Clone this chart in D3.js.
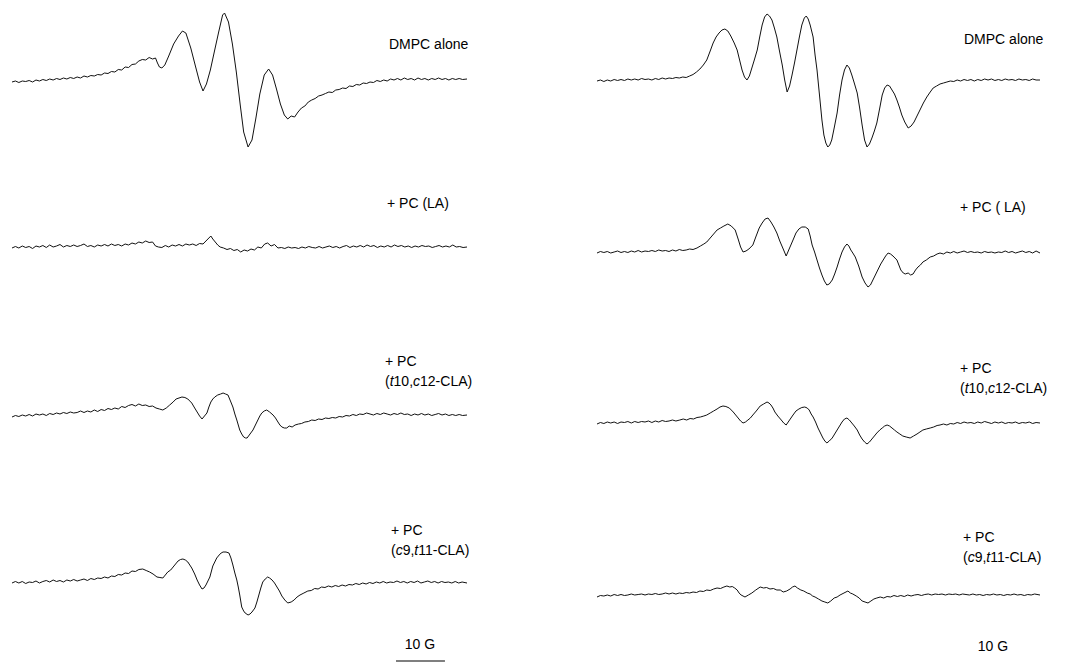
<!DOCTYPE html>
<html>
<head>
<meta charset="utf-8">
<script src="https://cdn.jsdelivr.net/npm/d3@7"></script>
<style>
  body { margin: 0; background: #fff; }
  text { font-family: "Liberation Sans", Arial, sans-serif; font-size: 14px; fill: #000; }
</style>
</head>
<body>
<svg id="chart" width="1077" height="665"></svg>
<script>
// EPR spectra, [field (G), signal (a.u.)]

var dmpcLeft = [[0,-2],[0.7,-1],[1.4,-2.5],[2.1,-1],[2.8,-1.5],[3.5,-0.5],[4.2,-2],[4.9,0],[5.6,-1],[6.3,0.5],[7,-0.5],[7.7,1],[8.4,0],[9.1,1.5],[9.8,0.5],[10.5,2],[11.2,1],[11.9,2.5],[12.6,1.5],[13.3,3],[14,2],[14.7,4],[15.4,3],[16.1,4.5],[16.8,4],[17.5,5.5],[18.2,5],[18.9,7],[19.6,6.5],[20.3,8.5],[21,8],[21.7,10.5],[22.4,10],[23.1,13],[23.8,12.5],[24.5,15.5],[25.2,16],[25.9,19],[26.6,20.5],[27.3,20],[28,22.5],[28.7,21],[29.3,22],[29.7,17],[30.1,13],[30.6,12],[31.2,15],[32,24],[33,36],[34,44],[34.8,49],[35.5,47],[36.5,32],[37.5,13],[38.3,-2],[39,-11],[39.7,-4],[40.5,10],[41.3,28],[42.2,48],[43,65],[43.4,67],[44.2,58],[45,36],[45.8,8],[46.6,-25],[47.3,-52],[48.2,-67],[49,-60],[49.8,-38],[50.6,-14],[51.5,5],[52.4,11],[53.2,5],[54,-9],[54.8,-24],[55.6,-35],[56.3,-39],[57,-36],[57.7,-37],[58.4,-32],[59.1,-28],[59.8,-26],[60.5,-22],[61.2,-20],[61.9,-18.5],[62.6,-16],[63.3,-15],[64,-13.5],[64.7,-12],[65.4,-12.5],[66.1,-10],[66.8,-9.5],[67.5,-8],[68.2,-8.5],[68.9,-6],[69.6,-6.5],[70.3,-4.5],[71,-5],[71.7,-3],[72.4,-3.5],[73.1,-2],[73.8,-2.5],[74.5,-0.5],[75.2,-1.5],[75.9,0],[76.6,-1],[77.3,1],[78,0],[78.7,1.5],[79.4,0],[80.1,2],[80.8,0.5],[81.5,1.5],[82.2,0],[82.9,2],[83.6,0.5],[84.3,1.5],[85,0],[85.7,1.5],[86.4,0.5],[87.1,2],[87.8,0.5],[88.5,1.5],[89.2,0],[89.9,1.5],[90.6,0.5],[91.3,1.5],[92,0.5],[92.9,1]];

var laLeft = [[0,-1],[0.7,0.5],[1.4,-1],[2.1,1],[2.8,-0.5],[3.5,0.5],[4.2,-1.5],[4.9,1],[5.6,0],[6.3,1.5],[7,-0.5],[7.7,2],[8.4,0],[9.1,1],[9.8,2.5],[10.5,0],[11.2,1.5],[11.9,0.5],[12.6,2],[13.3,0.5],[14,1.5],[14.7,3],[15.4,0.5],[16.1,1.5],[16.8,0],[17.5,2],[18.2,1],[18.9,2.5],[19.6,1],[20.3,3],[21,1.5],[21.7,2.5],[22.4,1],[23.1,3],[23.8,2],[24.5,4],[25.2,3],[25.9,5],[26.6,4],[27.3,6],[28,4.5],[28.7,5],[29.3,1],[29.9,0],[30.6,-0.5],[31.3,1.5],[32,0],[32.7,2],[33.4,1],[34.1,2.5],[34.8,1],[35.5,3],[36.2,2],[36.9,3],[37.6,1.5],[38.3,3.5],[39,3],[39.6,6],[40.2,9],[40.6,11],[41,8],[41.5,5],[42,2],[42.5,0],[43.2,-1],[43.9,-2.5],[44.6,-1.5],[45.3,-3.5],[46,-2.5],[46.7,-5],[47.4,-3],[48.1,-4],[48.8,-2],[49.5,-3],[50.2,0],[50.9,-1],[51.6,3],[52.2,4],[52.9,1],[53.6,2.5],[54.3,-1],[55,-0.5],[55.7,-1.5],[56.4,0],[57.1,-1],[57.8,-0.5],[58.5,-1.5],[59.2,0],[59.9,-1],[60.6,0.5],[61.3,-0.5],[62,-1],[62.7,0.5],[63.4,-1],[64.1,0],[64.8,1],[65.5,-0.5],[66.2,0.5],[66.9,-1],[67.6,0.5],[68.3,1.5],[69,-0.5],[69.7,1],[70.4,0],[71.1,1.5],[71.8,0],[72.5,2],[73.2,0.5],[73.9,1.5],[74.6,-0.5],[75.3,1],[76,0],[76.7,1.5],[77.4,0],[78.1,2],[78.8,0.5],[79.5,1.5],[80.2,0],[80.9,1],[81.6,-0.5],[82.3,1],[83,0],[83.7,1.5],[84.4,0.5],[85.1,1],[85.8,-0.5],[86.5,0.5],[87.2,1.5],[87.9,0],[88.6,1],[89.3,0],[90,2],[90.7,0],[91.4,0.5],[92.1,-0.5],[92.9,0]];

var t10Left = [[0,-2],[0.7,-0.5],[1.4,-1.5],[2.1,0],[2.8,-1],[3.5,0.5],[4.2,-1],[4.9,1],[5.6,0],[6.3,1],[7,-0.5],[7.7,1.5],[8.4,0.5],[9.1,2],[9.8,1],[10.5,2.5],[11.2,1.5],[11.9,3],[12.6,2],[13.3,2.5],[14,4],[14.7,2.5],[15.4,4],[16.1,3],[16.8,5],[17.5,3.5],[18.2,5.5],[18.9,4.5],[19.6,6.5],[20.3,5.5],[21,7],[21.7,6],[22.4,8.5],[23.1,7.5],[23.8,9.5],[24.5,10.5],[25.2,9],[25.9,11],[26.6,9.5],[27.3,10],[28,8.5],[28.7,9],[29.4,7],[30.1,6],[30.8,5],[31.5,7],[32.2,10],[32.9,13],[33.5,16],[34.1,17],[34.7,18],[35.3,17.5],[35.9,16],[36.3,14],[36.7,12],[37.3,7],[37.8,3],[38.3,-1],[38.8,-4],[39.3,-1],[39.8,2],[40.2,8],[40.6,13],[41,16],[41.4,18],[42,20],[42.6,21],[43.1,22],[43.6,21],[44.1,20],[44.6,14],[45.1,8],[45.5,1],[45.9,-5],[46.2,-10],[46.5,-15],[46.9,-19],[47.3,-22],[47.7,-23],[48,-23],[48.6,-19],[49.2,-15],[49.7,-10],[50.2,-5],[50.6,-1],[51,2],[51.5,4],[52,5],[52.6,3],[53.3,0],[53.8,-3],[54.3,-7],[54.7,-10],[55.1,-12],[55.6,-13],[56.1,-13],[56.6,-11],[57.2,-12],[57.8,-10],[58.5,-9],[59.1,-8.5],[59.8,-7],[60.5,-6.5],[61.2,-5],[61.9,-5.5],[62.6,-4],[63.3,-4.5],[64,-3],[64.7,-3.5],[65.4,-2.5],[66.1,-3],[66.8,-1.5],[67.5,-2],[68.2,-0.5],[68.9,-1],[69.6,0.5],[70.3,-0.5],[71,1],[71.7,0.5],[72.4,2],[73.1,1],[73.8,0],[74.5,1.5],[75.2,0.5],[75.9,2],[76.6,1],[77.3,0],[78,1.5],[78.7,0.5],[79.4,2],[80.1,0.5],[80.8,1],[81.5,-0.5],[82.2,1],[82.9,0],[83.6,1.5],[84.3,0],[85,1],[85.7,-0.5],[86.4,0.5],[87.1,1.5],[87.8,0],[88.5,1],[89.2,-0.5],[89.9,0.5],[90.6,-0.5],[91.3,0.5],[92,-0.5],[92.9,0]];

var c9Left = [[0,-1],[0.7,0.5],[1.4,-1],[2.1,0.5],[2.8,-1.5],[3.5,0],[4.2,-0.5],[4.9,1],[5.6,-1],[6.3,0.5],[7,1.5],[7.7,0],[8.4,2],[9.1,0.5],[9.8,1.5],[10.5,0],[11.2,2],[11.9,1],[12.6,2.5],[13.3,1],[14,2],[14.7,3],[15.4,1.5],[16.1,3.5],[16.8,2.5],[17.5,4],[18.2,3.5],[18.9,5],[19.6,4],[20.3,6],[21,5.5],[21.7,7.5],[22.4,7],[23.1,9],[23.8,8.5],[24.5,11],[25.2,10.5],[25.9,12.5],[26.7,13],[27.4,11.5],[28.1,10],[28.8,8],[29.6,5],[30.2,4.5],[30.8,4],[31.3,7],[31.8,10],[32.4,12],[32.9,15],[33.4,18],[33.9,21],[34.4,22.5],[34.9,23],[35.4,22],[35.9,20],[36.3,17],[36.7,14],[37.3,8],[37.8,2],[38.3,-3],[38.8,-7],[39.2,-6],[39.6,-3],[40,1],[40.4,5],[41,16],[41.4,20],[41.8,24],[42.3,27],[42.7,29],[43.1,30],[43.7,30],[44.3,29],[44.7,24],[45.1,17],[45.5,9],[45.9,2],[46.2,-5],[46.5,-13],[46.9,-25],[47.3,-29],[47.6,-31],[48.2,-33],[48.6,-32],[49,-30],[49.6,-26],[50,-20],[50.4,-13],[50.8,-6],[51.2,0],[51.7,3],[52.2,5],[52.6,4],[53.1,2],[53.6,-1],[54.1,-5],[54.6,-9],[55.1,-14],[55.7,-18],[56.3,-21],[57,-20],[57.6,-18],[58.2,-15],[58.8,-13],[59.6,-11],[60.4,-9],[61.1,-8.5],[61.8,-6.5],[62.5,-7],[63.2,-5],[63.9,-5.5],[64.6,-4],[65.3,-5],[66,-3.5],[66.7,-4.5],[67.4,-3],[68.1,-4],[68.8,-2.5],[69.5,-3],[70.2,-1.5],[70.9,-2.5],[71.6,-1],[72.3,-2],[73,-0.5],[73.7,-1.5],[74.4,0],[75.1,-1],[75.8,0.5],[76.5,-1],[77.2,0],[77.9,-0.5],[78.6,1],[79.3,-0.5],[80,0.5],[80.7,-1],[81.4,0.5],[82.1,-0.5],[82.8,1],[83.5,-1],[84.2,0],[84.9,1],[85.6,-0.5],[86.3,0.5],[87,-1],[87.7,0.5],[88.4,-0.5],[89.1,0],[89.8,-1],[90.5,0.5],[91.2,-1],[91.9,0],[92.9,-1]];

var dmpcRight = [[0,-1],[0.7,0],[1.4,-1.5],[2.1,0],[2.8,-1],[3.5,0.5],[4.2,-0.5],[4.9,0.5],[5.6,-0.5],[6.3,1],[7,0],[7.7,1],[8.4,0],[9.1,1.5],[9.8,0.5],[10.5,1],[11.2,0],[11.9,1.5],[12.6,0.5],[13.3,2],[14,1],[14.7,2],[15.4,1.5],[16.1,2.5],[16.8,2],[17.5,3],[18.2,2.5],[18.9,4],[19.6,5.5],[20.3,8],[21,11],[21.7,15],[22.4,20],[23.1,29],[23.7,37],[24.3,43],[24.9,47],[25.5,50],[26.1,51],[26.7,49],[27.3,44],[28,37],[28.6,30],[29.1,20],[29.6,10],[30.1,3],[30.6,0],[31.1,4],[31.6,12],[32.1,20],[32.7,30],[33.2,43],[33.7,55],[34.2,63],[34.7,66],[35.2,64],[35.7,60],[36.2,52],[36.7,43],[37.2,30],[37.8,15],[38.3,0],[38.8,-12],[39.3,-6],[39.8,5],[40.3,17],[40.8,30],[41.3,43],[41.8,55],[42.3,62],[42.7,64],[43.1,61],[43.5,55],[44.1,43],[44.5,25],[44.9,10],[45.5,-20],[45.9,-40],[46.3,-55],[46.7,-63],[47.1,-67],[47.5,-65],[47.9,-60],[48.4,-48],[49,-33],[49.5,-15],[50,0],[50.5,10],[51,15],[51.5,12],[52,5],[52.5,-3],[53.1,-13],[53.6,-28],[54.1,-45],[54.6,-60],[55.1,-67],[55.6,-64],[56.1,-58],[56.6,-51],[57.1,-43],[57.7,-28],[58.2,-15],[58.7,-8],[59.2,-5],[59.7,-6],[60.2,-10],[60.7,-14],[61.2,-20],[61.7,-27],[62.2,-35],[62.8,-42],[63.5,-48],[64.1,-46],[64.7,-42],[65.3,-36],[65.9,-30],[66.6,-23],[67.3,-17],[68,-12],[68.6,-8],[69.3,-6],[70,-4],[70.7,-3],[71.4,-2],[72.1,-1],[72.8,-1.5],[73.5,0],[74.2,-1],[74.9,0.5],[75.6,-0.5],[76.3,0.5],[77,-1],[77.7,0.5],[78.4,-0.5],[79.1,1],[79.8,0],[80.5,1],[81.2,-0.5],[81.9,0.5],[82.6,-0.5],[83.3,1],[84,0],[84.7,0.5],[85.4,-0.5],[86.1,1],[86.8,0],[87.5,0.5],[88.2,-0.5],[88.9,1],[89.6,0],[90.4,0]];

var laRight = [[0,-1],[0.7,0.5],[1.4,-0.5],[2.1,0.5],[2.8,-1],[3.5,0],[4.2,1],[4.9,-0.5],[5.6,0.5],[6.3,-0.5],[7,1],[7.7,0],[8.4,1.5],[9.1,0],[9.8,1],[10.5,0.5],[11.2,1.5],[11.9,0.5],[12.6,2],[13.3,1],[14,1.5],[14.7,0.5],[15.4,2],[16.1,1],[16.8,2.5],[17.5,1.5],[18.2,2],[18.9,3],[19.6,2.5],[20.4,4],[21.1,6],[21.8,8],[22.4,10],[23.1,14],[23.8,18],[24.5,22],[25.2,24],[25.9,26],[26.7,28],[27.4,26],[28.2,22],[28.8,13],[29.3,5],[29.8,0],[30.4,1],[31,3],[31.8,7],[32.4,15],[33.1,24],[33.7,29],[34.3,33],[34.9,34],[35.5,30],[36.1,25],[36.7,19],[37.3,11],[38,3],[38.6,-4],[39.3,4],[40,12],[40.6,19],[41.2,23],[41.8,25],[42.5,25],[43.1,23],[43.5,16],[43.9,7],[44.4,0],[44.9,-8],[45.4,-16],[45.9,-23],[46.4,-29],[46.9,-33],[47.4,-32],[48,-28],[48.5,-22],[49,-15],[49.5,-7],[50,0],[50.5,5],[51,8],[51.4,6],[51.8,2],[52.2,-1],[52.7,-5],[53.4,-14],[54.1,-25],[54.7,-31],[55.3,-35],[55.8,-33],[56.3,-28],[56.8,-23],[57.3,-18],[57.9,-12],[58.4,-8],[58.9,-4],[59.4,-1],[59.9,-2],[60.4,-4],[60.8,-6],[61.2,-8],[61.6,-13],[62,-18],[62.5,-21],[62.9,-22],[63.5,-21],[64,-23],[64.5,-22],[65,-18],[65.5,-15],[66,-13],[66.5,-10],[67.2,-8],[68,-5],[68.7,-4],[69.4,-2],[70,-1],[70.7,-2],[71.4,0],[72.1,-1],[72.8,0.5],[73.5,-1],[74.2,0],[74.9,1],[75.6,-0.5],[76.3,0.5],[77,-0.5],[77.7,0],[78.4,-1],[79.1,0.5],[79.8,-0.5],[80.5,0],[81.2,-1],[81.9,0],[82.6,-0.5],[83.3,1],[84,-0.5],[84.7,0.5],[85.4,-1],[86.1,0],[86.8,1],[87.5,-0.5],[88.2,0.5],[88.9,-1],[89.6,1],[90.4,-1]];

var t10Right = [[0,-2],[0.7,-0.5],[1.4,-1.5],[2.1,0],[2.8,-1],[3.5,0],[4.2,-1.5],[4.9,0],[5.6,-0.5],[6.3,0.5],[7,-1],[7.7,0.5],[8.4,-0.5],[9.1,0.5],[9.8,0],[10.5,1],[11.2,-0.5],[11.9,1],[12.6,0],[13.3,1.5],[14,0.5],[14.7,1],[15.4,2],[16.1,1],[16.9,2],[17.6,3],[18.3,2],[19,3.5],[19.7,3],[20.4,4.5],[21.1,5],[21.8,6],[22.4,7],[23.1,9],[23.8,11],[24.5,13],[25.1,15],[25.7,16],[26.3,15.5],[27,14],[27.8,10],[28.3,7],[28.8,4],[29.3,1],[29.8,-1],[30.3,0],[30.8,2],[31.3,4],[31.8,7],[32.5,11],[33.3,16],[34,18],[34.7,20],[35.1,19],[35.5,17],[35.9,14],[36.3,10],[36.9,6],[37.6,2],[38.1,-1],[38.6,-3],[39.3,2],[40,7],[40.6,11],[41.2,13],[41.8,14.5],[42.4,15],[42.9,14],[43.3,12],[43.7,8],[44.1,5],[44.6,0],[45.1,-6],[45.6,-11],[46.1,-16],[46.5,-19],[46.9,-21],[47.4,-19],[48,-16],[48.5,-12],[49,-8],[49.5,-4],[50,0],[50.5,3],[51,4],[51.5,2],[52,-1],[52.5,-4],[53.1,-8],[53.6,-13],[54.1,-17],[54.6,-20],[55.1,-22],[55.6,-20],[56.1,-17],[56.6,-14],[57.1,-11],[57.7,-8],[58.2,-6],[58.7,-4],[59.2,-3],[59.7,-4],[60.2,-6],[60.7,-8],[61.2,-10],[61.8,-12],[62.4,-14],[63.1,-15],[63.9,-16],[64.6,-14],[65.3,-12],[65.9,-10],[66.5,-8],[67.2,-7],[68,-6],[68.7,-5],[69.4,-3.5],[70,-3],[70.7,-2],[71.4,-3],[72.1,-1.5],[72.8,-2],[73.5,-0.5],[74.2,-1.5],[74.9,0],[75.6,-1],[76.3,-0.5],[77,-1.5],[77.7,0],[78.4,-1],[79.1,0.5],[79.8,-0.5],[80.5,-1.5],[81.2,0],[81.9,-1],[82.6,0],[83.3,-1.5],[84,-0.5],[84.7,-1],[85.4,0],[86.1,-1.5],[86.8,-0.5],[87.5,-1],[88.2,0],[88.9,-1.5],[89.6,-0.5],[90.4,-1]];

var c9Right = [[0,-2],[0.7,-0.5],[1.4,-1],[2.1,0],[2.8,-1],[3.5,0.5],[4.2,-0.5],[4.9,0.5],[5.6,-0.5],[6.3,0],[7,1],[7.7,0],[8.4,0.5],[9.1,1],[9.8,0],[10.5,1],[11.2,0.5],[11.9,1.5],[12.6,0.5],[13.3,1],[14,2],[14.7,1],[15.4,2],[16.1,1],[16.8,2],[17.5,1.5],[18.2,2.5],[18.9,2],[19.6,3],[20.3,2.5],[21,4],[21.7,3.5],[22.4,5],[23.1,4.5],[23.8,6],[24.5,7],[25.2,6.5],[25.9,8],[26.5,9],[27.1,8],[27.6,8.5],[28.1,7],[28.6,5],[29,2],[29.4,0],[29.8,-1],[30.2,-2],[30.9,0],[31.6,2],[32.4,5],[33.3,8],[34,7],[34.6,7.5],[35.3,6],[36,6.5],[36.7,5],[37.4,5],[38,3],[38.7,4],[39.4,6],[39.9,8],[40.4,9],[40.9,7],[41.6,5],[42.2,4],[42.9,2],[43.5,1],[44,-1],[44.5,-2],[45.2,-4],[45.9,-6],[46.5,-7],[47.1,-8],[47.7,-6],[48.4,-3],[49,-2],[49.6,0],[50.4,2],[51.2,4],[51.7,2],[52.2,1],[52.9,-1],[53.5,-3],[54.1,-6],[54.7,-7],[55.3,-8],[55.9,-6],[56.5,-4],[57.1,-3],[57.8,-2],[58.5,-3],[59.2,-1.5],[59.9,-2],[60.6,-0.5],[61.3,-1.5],[62,-0.5],[62.7,-1.5],[63.4,0],[64.1,-1],[64.8,0],[65.5,0.5],[66.2,-0.5],[66.9,0.5],[67.6,1],[68.3,0],[69,1],[69.7,0.5],[70.4,1],[71.1,0],[71.8,1],[72.5,0.5],[73.2,1],[73.9,0],[74.6,1],[75.3,0.5],[76,0],[76.7,1],[77.4,0],[78.1,0.5],[78.8,-0.5],[79.5,0.5],[80.2,0],[80.9,1],[81.6,0],[82.3,0.5],[83,-0.5],[83.7,0.5],[84.4,0],[85.1,1],[85.8,0],[86.5,0.5],[87.2,-0.5],[87.9,0.5],[88.6,0],[89.3,1],[90.4,0]];

// labels; _x_ marks italic letters
var labelsLeft = [["DMPC alone"], ["+ PC (LA)"], ["+ PC", "(_t_10,_c_12-CLA)"], ["+ PC", "(_c_9,_t_11-CLA)"]];
var labelsRight = [["DMPC alone"], ["+ PC ( LA)"], ["+ PC", "(_t_10,_c_12-CLA)"], ["+ PC", "(_c_9,_t_11-CLA)"]];
var scaleLabel = "10 G";
var scaleLength = 10; // G

var svg = d3.select("#chart");

var panels = [
  {spectra: [dmpcLeft, laLeft, t10Left, c9Left], labels: labelsLeft,
   fieldMax: 92.9, left: 12, right: 467, baselines: [80, 247, 415, 582],
   labelX: [389, 387, 385, 391], labelY: [49, 208, 366, 535],
   scaleX: 420, scaleY: 649, barStart: 78.4, barY: 661},
  {spectra: [dmpcRight, laRight, t10Right, c9Right], labels: labelsRight,
   fieldMax: 90.4, left: 597, right: 1040, baselines: [80, 252, 422, 595],
   labelX: [964, 960, 960, 963], labelY: [44, 212, 373, 542],
   scaleX: 993, scaleY: 651, barStart: null, barY: null}
];

var y = d3.scaleLinear().domain([-100, 100]).range([100, -100]);

panels.forEach(function(p) {
  var x = d3.scaleLinear().domain([0, p.fieldMax]).range([p.left, p.right]);

  p.spectra.forEach(function(spec, i) {
    var line = d3.line()
      .x(function(d) { return x(d[0]); })
      .y(function(d) { return p.baselines[i] + y(d[1]); })
      .curve(d3.curveLinear);
    svg.append("path")
      .datum(spec)
      .attr("d", line)
      .attr("fill", "none")
      .attr("stroke", "#111")
      .attr("stroke-width", 1)
      .attr("stroke-linejoin", "round");

    // label lines
    p.labels[i].forEach(function(str, k) {
      var t = svg.append("text")
        .attr("x", p.labelX[i])
        .attr("y", p.labelY[i] + k * 20);
      str.split("_").forEach(function(part, j) {
        if (part === "") return;
        t.append("tspan")
          .attr("font-style", j % 2 === 1 ? "italic" : "normal")
          .text(part);
      });
    });
  });

  // scale bar
  svg.append("text")
    .attr("x", p.scaleX)
    .attr("y", p.scaleY)
    .attr("text-anchor", "middle")
    .text(scaleLabel);
  if (p.barStart !== null) {
    svg.append("line")
      .attr("x1", x(p.barStart))
      .attr("x2", x(p.barStart + scaleLength))
      .attr("y1", p.barY)
      .attr("y2", p.barY)
      .attr("stroke", "#000")
      .attr("stroke-width", 1.2);
  }
});
</script>
</body>
</html>
